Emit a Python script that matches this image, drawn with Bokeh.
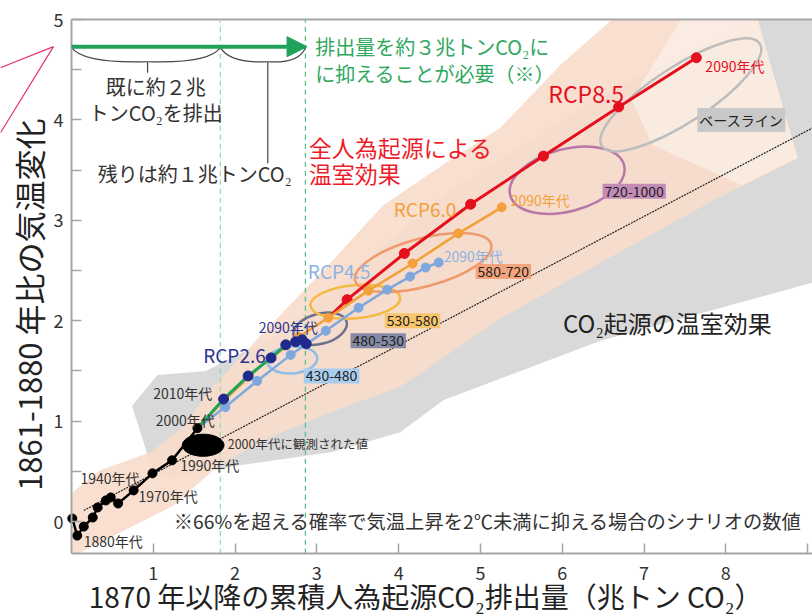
import math
from bokeh.plotting import figure
from bokeh.models import (Range1d, FixedTicker, LinearAxis, Arrow, NormalHead,
                          Label)
from bokeh.core.properties import value
from bokeh.embed import file_html
from bokeh.resources import INLINE

FONT = "Noto Sans CJK JP"

# --- observed decadal means (cumulative CO2 in TtCO2, warming in degC) ---
hist_x = [0.01, 0.07, 0.15, 0.26, 0.32, 0.42, 0.48, 0.57, 0.76, 0.99, 1.23, 1.54]
hist_y = [0.03, -0.14, -0.05, 0.04, 0.14, 0.21, 0.24, 0.18, 0.31, 0.48, 0.61, 0.93]

# observed 2000s value (filled ellipse): centre and spread
obs_x, obs_y, obs_w, obs_h = 1.61, 0.76, 0.51, 0.22

# --- RCP scenario decadal means ---
rcp26_x = [1.86, 2.16, 2.44, 2.62, 2.74, 2.82, 2.87]
rcp26_y = [1.22, 1.45, 1.63, 1.76, 1.79, 1.81, 1.77]

rcp45_x = [1.54, 1.88, 2.27, 2.68, 3.11, 3.51, 3.86, 4.14, 4.33, 4.49]
rcp45_y = [0.93, 1.14, 1.40, 1.66, 1.90, 2.13, 2.31, 2.44, 2.53, 2.58]

rcp60_x = [1.54, 1.82, 2.30, 2.78, 3.14, 3.63, 4.17, 4.73, 5.26]
rcp60_y = [0.93, 1.17, 1.54, 1.84, 2.03, 2.30, 2.57, 2.87, 3.13]

rcp85_x = [3.14, 3.37, 4.07, 4.88, 5.77, 6.69, 7.64]
rcp85_y = [2.03, 2.21, 2.67, 3.16, 3.64, 4.13, 4.62]

# historical path continued to the 2010s (green)
green_x = [1.54, 1.86, 2.16, 2.44, 2.62]
green_y = [0.93, 1.22, 1.45, 1.63, 1.76]

# CO2-only mean response
co2_x = [0.15, 9.20]
co2_y = [0.11, 3.98]

# --- plumes ---
total_x = [0.01, 0.35, 0.97, 1.39, 1.64, 2.31, 3.17, 3.81, 4.63, 5.24, 5.98, 6.61,
           8.39, 8.88, 7.85, 6.47, 5.24, 4.02, 3.17, 2.31, 1.76, 1.25, 0.08, 0.01]
total_y = [0.29, 0.51, 0.69, 0.96, 1.26, 1.85, 2.58, 3.15, 3.60, 3.92, 4.55, 5.00,
           5.00, 3.62, 3.20, 2.58, 2.02, 1.34, 1.09, 0.80, 0.53, 0.16, -0.32, -0.32]

total_light_x = [7.45, 8.39, 8.88, 8.20, 7.10, 6.85]
total_light_y = [5.00, 5.00, 3.62, 3.35, 3.75, 4.20]

co2_plume_x = [0.97, 0.74, 1.05, 1.64, 2.50, 4.63, 6.60, 8.39, 9.06, 9.06,
               6.47, 4.55, 4.02, 3.17, 1.98, 1.21]
co2_plume_y = [0.56, 1.15, 1.46, 1.50, 1.85, 3.30, 4.30, 5.00, 5.00, 2.38,
               1.80, 1.21, 0.89, 0.69, 0.55, 0.43]

# --- scenario categories (ppm CO2-eq) ---
cat_names = ["430-480", "480-530", "530-580", "580-720", "720-1000", "ベースライン"]
cat_x = [2.70, 3.04, 3.47, 4.30, 6.06, 7.45]
cat_y = [1.61, 1.92, 2.19, 2.58, 3.40, 4.25]
cat_w = [0.61, 0.67, 1.10, 1.72, 1.44, 2.30]
cat_h = [0.27, 0.30, 0.33, 0.48, 0.62, 0.56]
cat_angle = [5, 15, 5, 15, 15, 33]
cat_label_x = [3.18, 3.75, 4.17, 5.28, 6.88, 8.19]
cat_label_y = [1.45, 1.80, 2.00, 2.49, 3.29, 4.00]

# carbon budget (TtCO2)
budget_used = 1.82
budget_total = 2.86
arrow_y = 4.73

X_MAX = 9.06
Y_MIN, Y_MAX = -0.32, 5.0

ELL_COL = ["#8fbde8", "#6b708c", "#f5b945", "#ef9a6e", "#b578a8", "#bdbdbd"]
BOX_COL = ["#a9cdee", "#858aa5", "#f7c66c", "#f4a47c", "#c48bb6", "#c8c8c8"]

RED = "#e60f1e"
ORANGE = "#f3a03a"
LBLUE = "#7ea8dd"
NAVY = "#1f2a8c"
GREEN = "#1fa35a"
TXT = "#333333"
AXC = "#a6a6a6"

# the frame fills the whole canvas; axes sit at fixed data positions
p = figure(width=812, height=616, output_backend="svg", toolbar_location=None,
           x_range=Range1d(-0.868, X_MAX), y_range=Range1d(-0.946, 5.19),
           x_axis_type=None, y_axis_type=None,
           min_border_left=0, min_border_right=0, min_border_top=0,
           min_border_bottom=0)
p.outline_line_color = None
p.grid.visible = False
p.background_fill_color = "white"
p.border_fill_color = "white"

yax = LinearAxis(fixed_location=0, bounds=(Y_MIN, Y_MAX),
                 ticker=FixedTicker(ticks=[0, 1, 2, 3, 4, 5],
                                    minor_ticks=[0.5, 1.5, 2.5, 3.5, 4.5]))
xax = LinearAxis(fixed_location=Y_MIN, bounds=(0, X_MAX),
                 ticker=FixedTicker(ticks=[1, 2, 3, 4, 5, 6, 7, 8, 9]))
xax.major_label_overrides = {9: ""}
for ax in (xax, yax):
    ax.axis_line_color = AXC
    ax.axis_line_width = 2
    ax.major_tick_line_color = AXC
    ax.major_tick_line_width = 1.5
    ax.major_tick_in = 10
    ax.major_tick_out = 0
    ax.minor_tick_line_color = AXC
    ax.minor_tick_line_width = 1.5
    ax.minor_tick_in = 10
    ax.minor_tick_out = 0
    ax.major_label_text_font = FONT
    ax.major_label_text_font_size = "18px"
    ax.major_label_text_color = TXT
xax.minor_tick_line_color = None
xax.major_label_standoff = 12
yax.major_label_standoff = 8
p.add_layout(yax, "left")
p.add_layout(xax, "below")

# plumes
p.patch(co2_plume_x, co2_plume_y, fill_color="#d9d9d9", line_color=None)
p.patch(total_x, total_y, fill_color="#f9dccb", fill_alpha=0.92, line_color=None)
p.patch(total_light_x, total_light_y, fill_color="white", fill_alpha=0.42,
        line_color=None)

# top frame line
p.line([0, X_MAX], [Y_MAX, Y_MAX], line_color=AXC, line_width=2)

# CO2-only mean
p.line(co2_x, co2_y, line_color="#222222", line_width=1.2, line_dash="2 1")

# budget guide lines
p.segment(x0=[budget_used, budget_total], y0=[Y_MIN, Y_MIN],
          x1=[budget_used, budget_total], y1=[Y_MAX, Y_MAX],
          line_color=["#9bd9b0", "#5cc08a"], line_width=1.3, line_dash="5 4")

# scenario ellipses
p.ellipse(cat_x, cat_y, width=cat_w, height=cat_h, angle=cat_angle,
          angle_units="deg", fill_color=None, line_color=ELL_COL, line_width=2.5)

# observed 2000s
p.ellipse([obs_x], [obs_y], width=[obs_w], height=[obs_h], fill_color="black",
          line_color="black")

# scenario paths
p.line(rcp85_x, rcp85_y, line_color=RED, line_width=3)
p.scatter(rcp85_x[1:], rcp85_y[1:], size=10, color=RED)
p.line(rcp60_x, rcp60_y, line_color=ORANGE, line_width=2.5)
p.scatter(rcp60_x[3:], rcp60_y[3:], size=9, color=ORANGE)
p.line(rcp45_x, rcp45_y, line_color=LBLUE, line_width=2.5)
p.scatter(rcp45_x[1:], rcp45_y[1:], size=9, color=LBLUE)
p.line(green_x, green_y, line_color=GREEN, line_width=3)
p.scatter(rcp26_x, rcp26_y, size=10, color=NAVY)

# historical
p.line(hist_x, hist_y, line_color="black", line_width=2.5)
p.scatter(hist_x, hist_y, size=9, color="black")

# budget arrow and braces
p.add_layout(Arrow(end=NormalHead(size=20, fill_color=GREEN, line_color=GREEN),
                   x_start=0, y_start=arrow_y, x_end=budget_total + 0.02,
                   y_end=arrow_y, line_color=GREEN, line_width=4))
mid1 = 0.93
mid2 = 2.40
brace_top = arrow_y - 0.01
brace_low = 4.58
p.quadratic(x0=[0, mid1, budget_used, mid2],
            y0=[brace_top, brace_low, brace_top, brace_low],
            x1=[mid1, budget_used, mid2, budget_total],
            y1=[brace_low, brace_top, brace_low, brace_top],
            cx=[0.15, mid1 + 0.75, budget_used + 0.12, mid2 + 0.38],
            cy=[brace_low - 0.02] * 4,
            line_color="#444444", line_width=1.2)
p.segment(x0=[mid1, mid2], y0=[brace_low, brace_low], x1=[mid1, mid2],
          y1=[4.47, 3.57], line_color="#444444", line_width=1.2)

# callout lines at the left edge
p.line([-0.87, -0.22, -0.87], [4.52, 4.73, 3.87], line_color="#e8306a",
       line_width=1.2)


def txt(x, y, s, size, color, align="left", angle=0):
    p.text([x], [y], text=[s], text_font=value(FONT), text_font_size=size,
           text_color=color, text_align=align, text_baseline="middle",
           angle=angle)


# annotations
txt(2.98, 4.73, "排出量を約３兆トンCO₂に", "20px", "#2fa860")
txt(2.98, 4.46, "に抑えることが必要（※）", "20px", "#2fa860")
txt(1.03, 4.33, "既に約２兆", "20px", TXT, "center")
txt(1.03, 4.07, "トンCO₂を排出", "20px", TXT, "center")
txt(0.32, 3.47, "残りは約１兆トンCO₂", "20px", TXT)
txt(2.90, 3.73, "全人為起源による", "23px", "#ee1c2a")
txt(2.90, 3.47, "温室効果", "23px", "#ee1c2a")
txt(6.01, 1.98, "CO₂起源の温室効果", "24px", "#222222")
txt(1.25, 0.01, "※66%を超える確率で気温上昇を2℃未満に抑える場合のシナリオの数値",
    "19.3px", TXT)

txt(5.83, 4.27, "RCP8.5", "23px", RED)
txt(3.94, 3.12, "RCP6.0", "19px", ORANGE)
txt(2.89, 2.50, "RCP4.5", "19px", "#8db3e2")
txt(1.61, 1.66, "RCP2.6", "19px", "#2b3593")
txt(7.75, 4.54, "2090年代", "14px", RED)
txt(5.37, 3.20, "2090年代", "14px", ORANGE)
txt(4.55, 2.64, "2090年代", "14px", "#8db3e2")
txt(2.29, 1.94, "2090年代", "14px", "#2b3593")

hist_label_x = [0.15, 0.11, 0.82, 1.33, 1.03, 1.00]
hist_label_y = [-0.19, 0.43, 0.25, 0.56, 1.01, 1.28]
hist_label_t = ["1880年代", "1940年代", "1970年代", "1990年代", "2000年代", "2010年代"]
p.text(hist_label_x, hist_label_y, text=hist_label_t, text_font=value(FONT),
       text_font_size="14px", text_color=TXT, text_baseline="middle")
txt(1.91, 0.78, "2000年代に観測された値", "12.5px", TXT)

for name, lx, ly, bc in zip(cat_names, cat_label_x, cat_label_y, BOX_COL):
    p.add_layout(Label(x=lx, y=ly, text=name, text_font=FONT,
                       text_font_size="14px", text_color="#222222",
                       text_align="center", text_baseline="middle",
                       background_fill_color=bc, padding=2))

# axis titles
txt(-0.53, 2.16, "1861-1880 年比の気温変化", "31px", "#222222", "center",
    math.pi / 2)
txt(4.33, -0.738, "1870 年以降の累積人為起源CO₂排出量（兆トン CO₂）", "28px",
    "#222222", "center")

open("out.html", "w").write(file_html(p, INLINE))
